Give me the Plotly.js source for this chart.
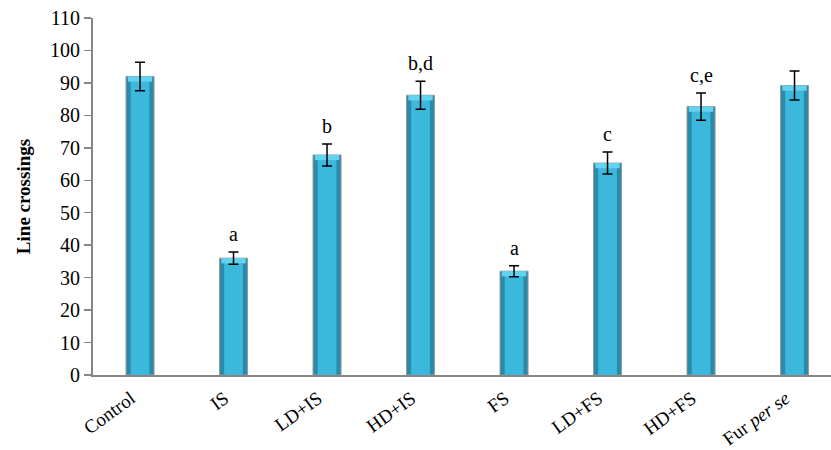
<!DOCTYPE html>
<html>
<head>
<meta charset="utf-8">
<script src="https://cdn.plot.ly/plotly-3.0.1.min.js"></script>
<style>html,body{margin:0;padding:0;background:#fff;}#chart{width:831px;height:450px;}</style>
</head>
<body>
<div id="chart"></div>
<script>
var categories = ["Control", "IS", "LD+IS", "HD+IS", "FS", "LD+FS", "HD+FS", "Fur <i>per se</i>"];
var values = [92, 36, 67.8, 86.2, 32, 65.3, 82.7, 89.2];
var errors = [4.4, 1.9, 3.4, 4.3, 1.7, 3.4, 4.2, 4.5];
var letters = ["", "a", "b", "b,d", "a", "c", "c,e", ""];
var yTicks = [0, 10, 20, 30, 40, 50, 60, 70, 80, 90, 100, 110];

var idx = categories.map(function(c, i){ return i; });
var serif = "'Liberation Serif', 'Times New Roman', serif";

var outer = {
  type: "bar", x: idx, y: values, width: 0.3,
  marker: {color: "#2a8aa9", line: {color: "#9a9a9a", width: 1}},
  hoverinfo: "skip", showlegend: false
};
var inner = {
  type: "bar", x: idx, y: values.map(function(v){ return v - 0.4; }), width: 0.2,
  marker: {color: "#3cb8dc", line: {width: 0}},
  hoverinfo: "skip", showlegend: false
};
var cap = {
  type: "bar", x: idx, y: values.map(function(){ return 1.6; }),
  base: values.map(function(v){ return v - 1.6; }), width: 0.26,
  marker: {color: "#62d4ef", line: {width: 0}},
  hoverinfo: "skip", showlegend: false
};
var errTrace = {
  type: "scatter", mode: "markers", x: idx, y: values,
  marker: {size: 1, color: "rgba(0,0,0,0)"},
  error_y: {type: "data", array: errors, visible: true, color: "#000", thickness: 1.5, width: 5},
  hoverinfo: "skip", showlegend: false
};

var annotations = [];
letters.forEach(function(t, i){
  if (!t) return;
  annotations.push({
    x: i, y: values[i] + errors[i], text: t, showarrow: false,
    xanchor: "center", yanchor: "bottom", yshift: 5,
    font: {family: serif, size: 20, color: "#000"}
  });
});

var layout = {
  width: 831, height: 450,
  margin: {l: 93, r: 0, t: 18, b: 75},
  paper_bgcolor: "#fff", plot_bgcolor: "#fff",
  barmode: "overlay",
  showlegend: false,
  xaxis: {
    range: [-0.503, 7.39],
    tickmode: "array", tickvals: idx, ticktext: categories,
    tickangle: -36, ticks: "",
    ticklabelshift: -9, ticklabelstandoff: 3,
    showgrid: false, zeroline: false,
    showline: true, linecolor: "#868686", linewidth: 2,
    tickfont: {family: serif, size: 19, color: "#000"}
  },
  yaxis: {
    range: [0, 110],
    tickmode: "array", tickvals: yTicks,
    ticks: "outside", ticklen: 7, tickwidth: 1.5, tickcolor: "#868686",
    showgrid: false, zeroline: false,
    showline: true, linecolor: "#868686", linewidth: 2,
    tickfont: {family: serif, size: 20, color: "#000"},
    title: {text: "<b>Line crossings</b>", font: {family: serif, size: 19, color: "#000"}, standoff: 14}
  },
  annotations: annotations
};

Plotly.newPlot("chart", [outer, inner, cap, errTrace], layout, {displayModeBar: false, staticPlot: true});
</script>
</body>
</html>
